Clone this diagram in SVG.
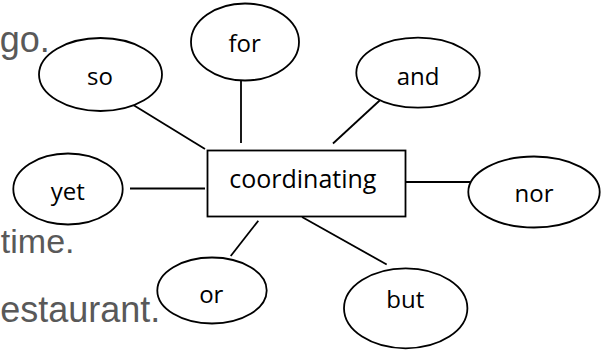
<svg xmlns="http://www.w3.org/2000/svg" width="608" height="350" viewBox="0 0 608 350">
<style>
.bg{font-family:"Liberation Sans",Arial,sans-serif;font-size:36px;fill:#595959;text-anchor:end}
.shape{fill:#fff;stroke:#000;stroke-width:1.8}
.lbl{font-family:"Open Sans","Noto Sans",sans-serif;font-size:24px;fill:#000;text-anchor:middle}
.conn line{stroke:#000;stroke-width:1.8}
</style>
<rect width="608" height="350" fill="#fff"/>
<g id="background-text">
<text class="bg" x="49.8" y="51.5">go.</text>
<text class="bg" x="74.5" y="253" style="font-size:34px">time.</text>
<text class="bg" x="160.3" y="321.5">estaurant.</text>
</g>
<g id="connectors" class="conn">
<line x1="131.7" y1="104" x2="205" y2="149"/>
<line x1="241" y1="72" x2="241" y2="143"/>
<line x1="386.7" y1="94" x2="333" y2="143.5"/>
<line x1="130" y1="188.5" x2="205" y2="188.5"/>
<line x1="406" y1="182" x2="470" y2="182"/>
<line x1="258.3" y1="220.7" x2="230.7" y2="256"/>
<line x1="302" y1="217" x2="386.7" y2="264.5"/>
</g>
<g id="node-so"><ellipse class="shape" cx="100.5" cy="74.5" rx="61.5" ry="36.5"/><text class="lbl" x="100" y="85">so</text></g>
<g id="node-for"><ellipse class="shape" cx="245" cy="42" rx="54" ry="38.5"/><text class="lbl" x="244.7" y="51.7">for</text></g>
<g id="node-and"><ellipse class="shape" cx="418" cy="72.7" rx="61.7" ry="35"/><text class="lbl" x="418" y="85">and</text></g>
<g id="node-yet"><ellipse class="shape" cx="68" cy="189" rx="54.7" ry="35.5"/><text class="lbl" x="67.8" y="200">yet</text></g>
<g id="node-nor"><ellipse class="shape" cx="534" cy="192" rx="65.7" ry="35.5"/><text class="lbl" x="534" y="201.7">nor</text></g>
<g id="node-or"><ellipse class="shape" cx="212" cy="290.5" rx="54.7" ry="33"/><text class="lbl" x="211.3" y="303.3">or</text></g>
<g id="node-but"><ellipse class="shape" cx="405.7" cy="308.3" rx="61.7" ry="40"/><text class="lbl" x="405.3" y="308.3">but</text></g>
<g id="node-coordinating"><rect class="shape" x="207.5" y="150.5" width="198" height="66"/><text class="lbl" x="302.8" y="188.3" style="font-size:25px">coordinating</text></g>
</svg>
